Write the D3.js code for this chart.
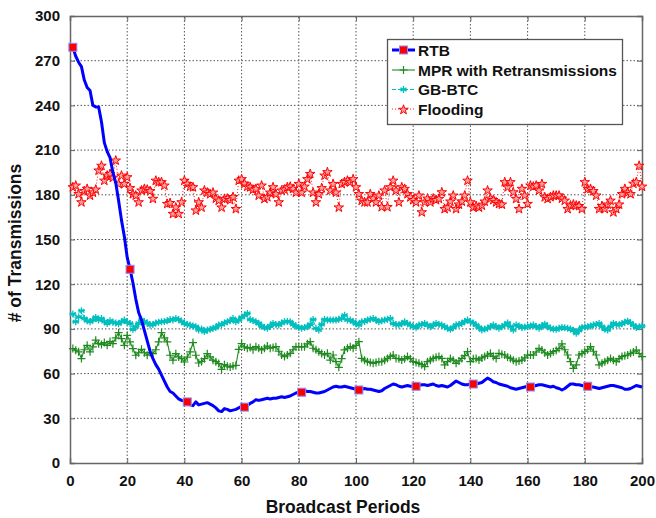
<!DOCTYPE html>
<html>
<head>
<meta charset="utf-8">
<script src="https://cdn.jsdelivr.net/npm/d3@7/dist/d3.min.js"></script>
<style>
body { margin: 0; background: #fff; }
text { font-family: "Liberation Sans", Arial, sans-serif; font-weight: bold; }
</style>
</head>
<body>
<svg id="chart" width="656" height="518"></svg>
<script>
const width = 656;
const height = 518;
const margin = {top: 16, right: 14, bottom: 55, left: 70};

const seriesNames = ["RTB", "MPR with Retransmissions", "GB-BTC", "Flooding"];
const xTicks = [0, 20, 40, 60, 80, 100, 120, 140, 160, 180, 200];
const yTicks = [0, 30, 60, 90, 120, 150, 180, 210, 240, 270, 300];

// broadcast periods 1..200
const rtb = [
  279, 273, 269, 266, 257, 252, 250, 240, 239, 239,
  229, 215, 209, 205, 195, 188, 176, 163, 152, 138,
  130, 121, 110, 101, 96, 89, 82, 75, 70, 66,
  63, 59, 55, 51, 48, 47, 45, 43, 42, 41.5,
  41, 39, 38.5, 41, 39, 39.5, 40, 40.5, 39.5, 38.5,
  37, 35, 34.5, 36.5, 36, 35, 35.5, 36, 37, 38,
  37.5, 38.5, 40, 41, 42.5, 42, 42.5, 43, 43.5, 43,
  43.5, 43.5, 44, 44.5, 44, 44.5, 45, 46, 47, 47.5,
  47.5, 48.5, 48, 48, 47.5, 47, 47, 47.5, 48, 49,
  50, 51, 51.5, 51, 51, 51.5, 51, 50.5, 50, 49.5,
  49, 49.5, 50, 49.5, 49.5, 49, 48.5, 48, 48.5, 50,
  51, 52, 53, 52.5, 51.5, 51, 51.5, 52, 51.5, 51.5,
  51.5, 52, 52.5, 52.5, 52, 52.5, 53, 52, 51.5, 52,
  51.5, 51, 52, 53.5, 55, 54, 53, 52.5, 52.5, 53,
  53, 53, 53.5, 54, 55.5, 57, 56, 54.5, 54, 53,
  52.5, 52, 51.5, 50.5, 50, 49.5, 50, 50.5, 51, 51.5,
  51, 51.5, 52, 52.5, 52.5, 52, 51.5, 51, 51.5, 50.5,
  50, 49, 50, 51.5, 53, 53, 52.5, 52.5, 52, 51.5,
  51.5, 51, 51, 50.5, 50, 50.5, 51, 51.5, 52, 52,
  51.5, 51, 50.5, 49.5, 49.5, 50, 51, 52, 51.5, 51
];

const mpr = [
  76.8, 75.7, 74.6, 70.1, 76, 79, 74.6, 78, 82.4, 80.1,
  79.5, 80.8, 79, 81.6, 80.1, 84, 87.5, 83.5, 79, 85.7,
  81.3, 76.8, 72.3, 74, 76.3, 74, 72.3, 74.1, 73.4, 76,
  81.3, 87.5, 84, 81.3, 72.3, 69, 73.4, 71.2, 70, 67.8,
  71, 74.6, 80.8, 72.3, 67.1, 68.2, 70, 73.4, 71.2, 69,
  68, 66.7, 62.9, 66, 65, 64.4, 65.1, 65.5, 76.3, 80.1,
  77.9, 77, 77.5, 76, 78.1, 77, 75.9, 77, 78.5, 77,
  77.5, 78.1, 75, 72.5, 71.4, 72.5, 73.6, 76, 78.1, 78,
  78.1, 78, 80, 81.4, 77, 76, 74.7, 73.5, 72.5, 73.6,
  69.1, 72.5, 68, 64.2, 70, 75.9, 77, 78.1, 77, 79,
  81.4, 70.2, 69, 68, 67.5, 66.9, 67.5, 68, 68, 69,
  70.2, 71.5, 72.5, 70.2, 70, 69.1, 70, 71.4, 70, 68,
  67.5, 66.9, 66, 64.7, 68, 69, 70.2, 71, 71.4, 70.2,
  65.8, 68, 70.2, 69, 66.9, 68.5, 70.2, 72, 74.7, 68,
  70, 70.2, 69.1, 70.5, 71.5, 72.5, 73.6, 71.5, 70.2, 73.6,
  73, 72.5, 71, 70.2, 69, 68, 68.5, 69.1, 70.5, 72.5,
  72.5, 72.5, 74.5, 76.9, 75.8, 74, 72.5, 73.5, 74.7, 75.5,
  76.9, 79.9, 76, 72.5, 68, 63.5, 65.8, 72.5, 73.5, 74.7,
  76, 78.1, 75, 72.5, 65.8, 67, 68, 69, 70.2, 69,
  68, 70, 71.4, 72, 72.5, 73.6, 74.5, 75.8, 73.5, 71.4
];

const gbbtc = [
  100, 94.8, 98, 102.2, 97, 95.5, 94.8, 96, 97.7, 96,
  97, 95, 93.7, 95.4, 94.5, 94, 93.5, 94.8, 95.9, 94.5,
  93.7, 89.7, 91.5, 93.7, 95.9, 95, 94, 92.6, 93, 94,
  94.5, 94.8, 95, 95.4, 96.3, 96, 97, 96.3, 95, 93.7,
  93, 92.6, 92, 91.5, 89.3, 90, 88.2, 89.3, 89.7, 90.5,
  91, 92.6, 93, 94, 94.8, 95.5, 97, 94.8, 96, 97.7,
  99, 100.4, 96.3, 95.5, 94.8, 93.7, 92, 91, 90.5, 92,
  93.7, 93, 92.6, 94, 94.8, 95, 94.8, 93, 91.9, 91,
  90.4, 91, 91.5, 93, 96.3, 90.4, 89.3, 93, 96.3, 96,
  95.9, 96, 95.9, 96.5, 97, 99.2, 96, 95.9, 94.8, 93.5,
  92.6, 94.8, 95, 95.9, 96.5, 97, 96, 94.8, 95.5, 95.9,
  96.5, 97, 93.7, 93, 92.6, 93.5, 94.8, 93.5, 92.6, 91.5,
  91, 92.6, 93, 93.7, 92.5, 91.5, 92.5, 93.7, 93, 92.6,
  91.5, 90.4, 89.7, 91, 92.6, 93, 93.7, 95, 95.9, 94.8,
  94, 92.5, 91, 89.3, 90, 90.4, 91.5, 92.6, 91.5, 90.4,
  91.5, 92.6, 94, 91.5, 89.3, 92.6, 92, 91, 91.2, 91.5,
  92, 92.6, 91.5, 90.4, 92, 93.2, 91.5, 90.4, 90, 89.7,
  90.4, 91, 90.7, 90.4, 90, 89, 87.1, 89, 91, 91.2,
  91.5, 92, 92.6, 93, 93.7, 91.5, 90, 89.3, 91.5, 93.7,
  93, 92.6, 93.5, 94.5, 95.2, 94, 92.5, 91, 91.5, 91.9
];

const flooding = [
  185.6, 186.7, 181, 175.5, 183, 184.5, 180, 182, 184, 196.8,
  200, 190, 193.4, 194.5, 192, 203.5, 187.8, 193.4, 187.8, 192.3,
  185, 181, 180, 175.5, 183.4, 184.5, 184, 183, 177.8, 190,
  189, 189, 186.7, 174.4, 175, 167.7, 172, 167.7, 175.5, 190,
  187.8, 186, 185.6, 170, 175.5, 172, 183.4, 182, 181, 182,
  178, 176.6, 172, 177.8, 178, 177, 179, 171, 190, 191,
  188, 186, 185.6, 184, 184.5, 180, 186.7, 177.8, 179, 182,
  185.6, 181, 175.5, 183.4, 184, 185.6, 186, 184.5, 182, 187.8,
  182, 186, 191, 194.5, 182, 175.5, 181, 185, 193.4, 195.7,
  183.4, 187.8, 182, 172, 187.8, 189, 190, 189, 191, 185.6,
  181, 176.6, 175.5, 175.5, 181, 178, 175.5, 180, 172.3, 183.4,
  172.3, 185.6, 190, 183.4, 175.5, 185.6, 184.5, 181, 178.9, 177,
  175.5, 180, 168.8, 175.5, 178, 175.5, 178, 177, 177.8, 182.2,
  171, 172, 176, 180, 171, 174, 176, 180, 190, 175.5,
  172, 173, 172, 173.3, 176, 183.4, 178, 177, 175.5, 174.4,
  174, 189, 185.6, 189, 182.2, 177.8, 171, 184.5, 180, 174.4,
  186.7, 186, 186.7, 183.4, 187.8, 178.9, 177.8, 179, 180, 180,
  180, 178, 176.6, 171, 173.3, 174, 173.3, 173, 171, 189,
  184.5, 184.5, 183, 180, 171, 173, 171, 174, 176.6, 168.8,
  171, 174, 181, 184.5, 182, 181, 188, 189, 200, 186
];

const periods = d3.range(1, 201);

const svg = d3.select("#chart");

const x = d3.scaleLinear().domain([0, 200]).range([margin.left, width - margin.right]);
const y = d3.scaleLinear().domain([0, 300]).range([height - margin.bottom, margin.top]);

// grid
const grid = svg.append("g");
grid.selectAll(".vg")
    .data(xTicks.slice(1, -1))
    .enter()
    .append("line")
    .attr("x1", d => x(d)).attr("x2", d => x(d))
    .attr("y1", y(0)).attr("y2", y(300))
    .attr("stroke", "#555")
    .attr("stroke-width", 1)
    .attr("stroke-dasharray", "1.5,2");
grid.selectAll(".hg")
    .data(yTicks.slice(1, -1))
    .enter()
    .append("line")
    .attr("x1", x(0)).attr("x2", x(200))
    .attr("y1", d => y(d)).attr("y2", d => y(d))
    .attr("stroke", "#555")
    .attr("stroke-width", 1)
    .attr("stroke-dasharray", "1.5,2");

// axes
const xAxis = svg.append("g")
    .attr("transform", "translate(0," + y(0) + ")")
    .call(d3.axisBottom(x).tickValues(xTicks).tickSize(-5).tickPadding(12));
const yAxis = svg.append("g")
    .attr("transform", "translate(" + x(0) + ",0)")
    .call(d3.axisLeft(y).tickValues(yTicks).tickSize(-5).tickPadding(10));
const xTop = svg.append("g")
    .attr("transform", "translate(0," + y(300) + ")")
    .call(d3.axisTop(x).tickValues(xTicks).tickSize(-5).tickFormat(""));
const yRight = svg.append("g")
    .attr("transform", "translate(" + x(200) + ",0)")
    .call(d3.axisRight(y).tickValues(yTicks).tickSize(-5).tickFormat(""));

[xAxis, yAxis, xTop, yRight].forEach(a => {
    a.select(".domain").attr("stroke", "#666").attr("stroke-width", 1.5);
    a.selectAll(".tick line").attr("stroke", "#666");
    a.selectAll("text")
        .style("font-family", "'Liberation Sans', Arial, sans-serif")
        .style("font-weight", "bold")
        .style("font-size", "15px")
        .attr("fill", "#111");
});

// axis labels
svg.append("text")
    .attr("x", 343)
    .attr("y", 513)
    .attr("text-anchor", "middle")
    .style("font-size", "17.5px")
    .attr("fill", "#111")
    .text("Broadcast Periods");
svg.append("text")
    .attr("transform", "translate(21,243) rotate(-90)")
    .attr("text-anchor", "middle")
    .style("font-size", "17.5px")
    .attr("fill", "#111")
    .text("# of Transmissions");

const line = d3.line()
    .x((d, i) => x(periods[i]))
    .y(d => y(d));

const plot = svg.append("g");

// Flooding: red dotted + pentagrams
const starPath = d3.symbol().type(d3.symbolStar).size(28)();
function drawFlooding(g) {
    g.append("path")
        .datum(flooding)
        .attr("d", line)
        .attr("fill", "none")
        .attr("stroke", "#ff2020")
        .attr("stroke-width", 1)
        .attr("stroke-dasharray", "1,2");
    g.selectAll(".star")
        .data(flooding)
        .enter()
        .append("path")
        .attr("d", starPath)
        .attr("transform", (d, i) => "translate(" + x(periods[i]) + "," + (y(d) + 0.8) + ")")
        .attr("fill", "#ffa0a0")
        .attr("stroke", "#ff0000")
        .attr("stroke-width", 1);
}

// GB-BTC: cyan dashed + asterisks
const astPath = "M0,-3.5L0,3.5M-3,-1.75L3,1.75M-3,1.75L3,-1.75M-3.5,0L3.5,0";
function drawGB(g) {
    g.append("path")
        .datum(gbbtc)
        .attr("d", line)
        .attr("fill", "none")
        .attr("stroke", "#00bfbf")
        .attr("stroke-width", 1)
        .attr("stroke-dasharray", "4,2");
    g.selectAll(".ast")
        .data(gbbtc)
        .enter()
        .append("path")
        .attr("d", astPath)
        .attr("transform", (d, i) => "translate(" + x(periods[i]) + "," + y(d) + ")")
        .attr("fill", "none")
        .attr("stroke", "#00bfbf")
        .attr("stroke-width", 1.3);
}

// MPR: green solid + plus
const plusPath = "M0,-4L0,4M-4,0L4,0";
function drawMPR(g) {
    g.append("path")
        .datum(mpr)
        .attr("d", line)
        .attr("fill", "none")
        .attr("stroke", "#1f8a1f")
        .attr("stroke-width", 1.1);
    g.selectAll(".plus")
        .data(mpr)
        .enter()
        .append("path")
        .attr("d", plusPath)
        .attr("transform", (d, i) => "translate(" + x(periods[i]) + "," + y(d) + ")")
        .attr("fill", "none")
        .attr("stroke", "#1f8a1f")
        .attr("stroke-width", 1.2);
}

// RTB: thick blue + red squares every 20 periods
function drawRTB(g) {
    g.append("path")
        .datum(rtb)
        .attr("d", line)
        .attr("fill", "none")
        .attr("stroke", "#0000ff")
        .attr("stroke-width", 3)
        .attr("stroke-linejoin", "round");
    g.selectAll(".sq")
        .data(rtb.map((d, i) => [periods[i], d]).filter((d, i) => i % 20 === 0))
        .enter()
        .append("rect")
        .attr("x", d => x(d[0]) - 4)
        .attr("y", d => y(d[1]) - 4)
        .attr("width", 8)
        .attr("height", 8)
        .attr("fill", "#ff0000")
        .attr("stroke", "#8c8cff")
        .attr("stroke-width", 1);
}

drawFlooding(plot.append("g"));
drawGB(plot.append("g"));
drawMPR(plot.append("g"));
drawRTB(plot.append("g"));

// legend
const legend = svg.append("g");
legend.append("rect")
    .attr("x", 387.5).attr("y", 39.5)
    .attr("width", 235).attr("height", 85)
    .attr("fill", "#fff")
    .attr("stroke", "#555")
    .attr("stroke-width", 1.3);

const rowY = [50, 70, 89.5, 109];
const lx1 = 392, lx2 = 415, lmid = 403.5;
seriesNames.forEach((name, i) => {
    const gy = rowY[i];
    const row = legend.append("g");
    if (i === 0) {
        row.append("line").attr("x1", lx1).attr("x2", lx2).attr("y1", gy).attr("y2", gy)
            .attr("stroke", "#0000ff").attr("stroke-width", 3);
        row.append("rect").attr("x", lmid - 4).attr("y", gy - 4).attr("width", 8).attr("height", 8)
            .attr("fill", "#ff0000").attr("stroke", "#8c8cff");
    } else if (i === 1) {
        row.append("line").attr("x1", lx1).attr("x2", lx2).attr("y1", gy).attr("y2", gy)
            .attr("stroke", "#1f8a1f").attr("stroke-width", 1.1);
        row.append("path").attr("d", plusPath).attr("transform", "translate(" + lmid + "," + gy + ")")
            .attr("stroke", "#1f8a1f").attr("stroke-width", 1.2);
    } else if (i === 2) {
        row.append("line").attr("x1", lx1).attr("x2", lx2).attr("y1", gy).attr("y2", gy)
            .attr("stroke", "#00bfbf").attr("stroke-dasharray", "4,2");
        row.append("path").attr("d", astPath).attr("transform", "translate(" + lmid + "," + gy + ")")
            .attr("stroke", "#00bfbf").attr("stroke-width", 1.3);
    } else {
        row.append("line").attr("x1", lx1).attr("x2", lx2).attr("y1", gy).attr("y2", gy)
            .attr("stroke", "#ff2020").attr("stroke-dasharray", "1,2");
        row.append("path").attr("d", starPath).attr("transform", "translate(" + lmid + "," + (gy + 0.8) + ")")
            .attr("fill", "#ffa0a0").attr("stroke", "#ff0000").attr("stroke-width", 1);
    }
    row.append("text")
        .attr("x", 418)
        .attr("y", gy + 5.5)
        .style("font-size", "15.5px")
        .attr("fill", "#111")
        .text(name);
});
</script>
</body>
</html>
